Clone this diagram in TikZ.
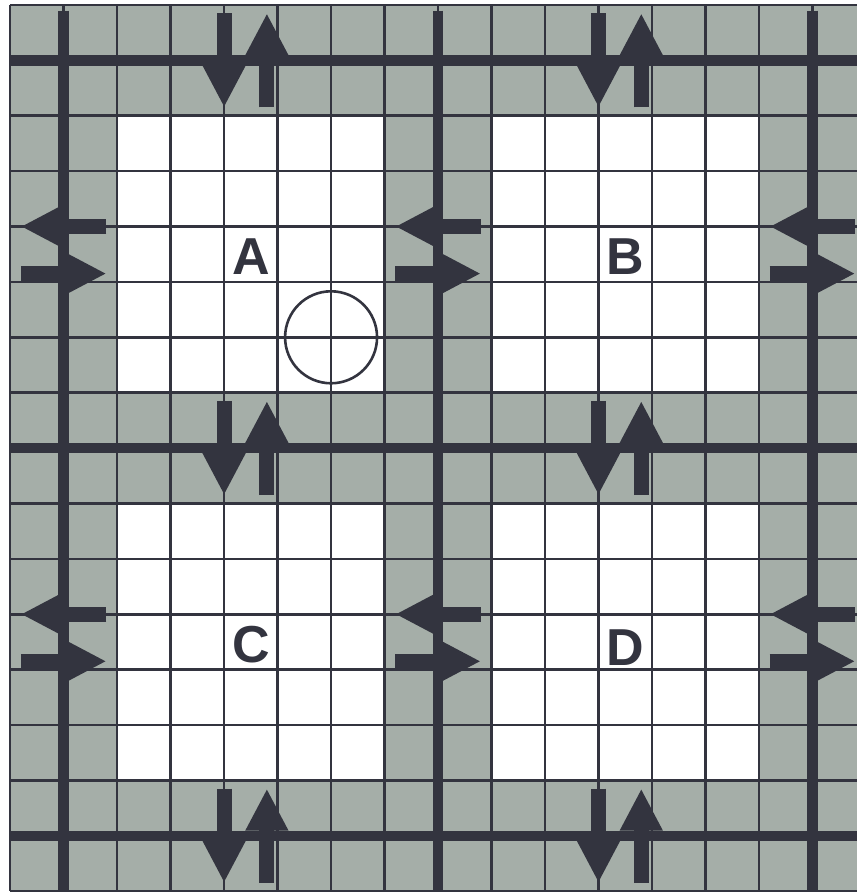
\documentclass[tikz,border=0pt]{standalone}
\usepackage{fontspec}
\setmainfont{Liberation Sans}
\usetikzlibrary{arrows.meta}
\definecolor{cellgray}{HTML}{A5AEA8}
\definecolor{inkblue}{HTML}{33343F}

\begin{document}
\begin{tikzpicture}[
    x=26.75pt, y=-27.7pt,
    gridline/.style={draw=inkblue, line width=1.3pt},
    wall/.style={draw=inkblue, line width=5.2pt},
    flow/.style={draw=inkblue, line width=7.5pt, -{Triangle[length=21pt, width=20pt]}},
    blocklabel/.style={font=\bfseries\fontsize{26}{26}\selectfont, text=inkblue}
]
    \useasboundingbox (-0.19,-0.09) rectangle (15.83,16.07);
    \fill[cellgray] (0,0) rectangle (15.83,16);
    % white blocks
    \foreach \c in {2,9}
        \foreach \r in {2,9}
            \fill[white] (\c,\r) rectangle ++(5,5);
    % thin grid
    \foreach \i in {0,...,15}
        \draw[gridline] (\i,0) -- (\i,16);
    \foreach \j in {0,...,16}
        \draw[gridline] (0,\j) -- (15.83,\j);
    \draw[gridline] (6,6) circle (23pt);
    % thick walls
    \foreach \k in {1,8,15} {
        \draw[wall] (\k,0.1) -- (\k,16);
        \draw[wall] (0,\k) -- (15.83,\k);
    }
    % arrow pairs
    \foreach \k in {1,8,15}
        \foreach \c in {4,11} {
            \draw[flow] (\c,\k-0.85) -- (\c,\k+0.85);
            \draw[flow] (\c+0.8,\k+0.85) -- (\c+0.8,\k-0.85);
            \draw[flow] (\k+0.8,\c) -- (\k-0.8,\c);
            \draw[flow] (\k-0.8,\c+0.85) -- (\k+0.8,\c+0.85);
        }
    \node[blocklabel] (A) at (4.5,4.55) {A};
    \node[blocklabel] (B) at (11.5,4.55) {B};
    \node[blocklabel] (C) at (4.5,11.55) {C};
    \node[blocklabel] (D) at (11.5,11.6) {D};
\end{tikzpicture}
\end{document}
